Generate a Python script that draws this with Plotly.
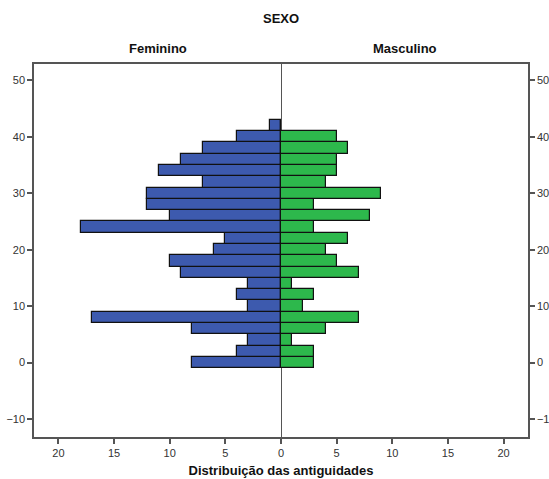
import plotly.graph_objects as go

antiguidade = [0, 2, 4, 6, 8, 10, 12, 14, 16, 18, 20, 22, 24, 26, 28, 30, 32, 34, 36, 38, 40, 42]
feminino = [8, 4, 3, 8, 17, 3, 4, 3, 9, 10, 6, 5, 18, 10, 12, 12, 7, 11, 9, 7, 4, 1]
masculino = [3, 3, 1, 4, 7, 2, 3, 1, 7, 5, 4, 6, 3, 8, 3, 9, 4, 5, 5, 6, 5, 0]

x_ticks = [-20, -15, -10, -5, 0, 5, 10, 15, 20]
x_ticktext = ["20", "15", "10", "5", "0", "5", "10", "15", "20"]
y_ticks = [-10, 0, 10, 20, 30, 40, 50]

BLUE = "#3D5AAE"
GREEN = "#2DB84C"
AXIS = "#555555"
FONT = "Liberation Sans, Arial, sans-serif"

fig = go.Figure()
fig.add_trace(go.Bar(
    y=antiguidade, x=[-v for v in feminino], orientation="h", width=2,
    marker=dict(color=BLUE, line=dict(color="#111111", width=1.2)),
    name="Feminino", hoverinfo="skip",
))
fig.add_trace(go.Bar(
    y=antiguidade, x=masculino, orientation="h", width=2,
    marker=dict(color=GREEN, line=dict(color="#111111", width=1.2)),
    name="Masculino", hoverinfo="skip",
))
# invisible trace to activate right-side axis
fig.add_trace(go.Scatter(x=[0], y=[0], yaxis="y2", mode="markers",
                         marker=dict(opacity=0), showlegend=False, hoverinfo="skip"))

yr = [-13.2, 52.9]
tickfont = dict(family=FONT, size=11, color="#333333")
fig.update_layout(
    template="none",
    width=549, height=479,
    margin=dict(l=34, r=21, t=64, b=42, autoexpand=False),
    paper_bgcolor="white", plot_bgcolor="white",
    barmode="overlay", bargap=0, showlegend=False,
    font=dict(family=FONT, size=11, color="#333333"),
    xaxis=dict(
        range=[-22.2, 22.2], tickvals=x_ticks, ticktext=x_ticktext,
        ticks="outside", ticklen=5, tickwidth=1.5, tickcolor=AXIS,
        showline=True, linecolor=AXIS, linewidth=1.5, mirror=True,
        showgrid=False, zeroline=True, zerolinecolor=AXIS, zerolinewidth=1,
        tickfont=tickfont, automargin=False,
        title=dict(text="<b>Distribuição das antiguidades</b>",
                   font=dict(family=FONT, size=13, color="#111111"), standoff=8),
        fixedrange=True,
    ),
    yaxis=dict(
        range=yr, tickvals=y_ticks,
        ticks="outside", ticklen=5, tickwidth=1.5, tickcolor=AXIS,
        showline=True, linecolor=AXIS, linewidth=1.5,
        showgrid=False, zeroline=False, automargin=False,
        tickfont=tickfont,
    ),
    yaxis2=dict(
        range=yr, tickvals=y_ticks, overlaying="y", side="right",
        ticks="outside", ticklen=5, tickwidth=1.5, tickcolor=AXIS,
        showline=True, linecolor=AXIS, linewidth=1.5,
        showgrid=False, zeroline=False, automargin=False,
        tickfont=tickfont,
    ),
    annotations=[
        dict(text="<b>SEXO</b>", x=0.5, y=1, xref="paper", yref="paper",
             xanchor="center", yanchor="middle", yshift=46, showarrow=False,
             font=dict(family=FONT, size=13, color="#111111")),
        dict(text="<b>Feminino</b>", x=0.25, y=1, xref="paper", yref="paper",
             xanchor="center", yanchor="middle", yshift=16, showarrow=False,
             font=dict(family=FONT, size=13, color="#111111")),
        dict(text="<b>Masculino</b>", x=0.75, y=1, xref="paper", yref="paper",
             xanchor="center", yanchor="middle", yshift=16, showarrow=False,
             font=dict(family=FONT, size=13, color="#111111")),
    ],
)

fig.write_html("out.html",
               config={"displayModeBar": False},
               post_script="document.body.style.margin='0';document.body.style.overflow='hidden';")
